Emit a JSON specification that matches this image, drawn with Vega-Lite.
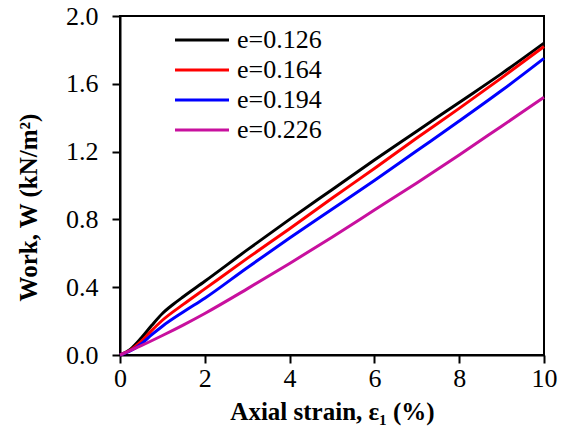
{
  "$schema": "https://vega.github.io/schema/vega-lite/v6.json",
  "width": 424,
  "height": 339,
  "autosize": {"type": "none"},
  "padding": {"left": 120, "top": 16, "right": 21, "bottom": 77},
  "background": "white",
  "config": {
    "font": "Liberation Serif, Times New Roman, serif",
    "view": {"stroke": "black", "strokeWidth": 2},
    "axis": {"grid": false, "labelFlush": false, "domainColor": "black", "domainWidth": 2, "tickColor": "black", "tickWidth": 2, "tickSize": 8, "labelFont": "Liberation Serif, Times New Roman, serif", "labelFontSize": 26, "labelColor": "black", "titleFont": "Liberation Serif, Times New Roman, serif", "titleFontSize": 25, "titleFontWeight": "bold", "titleColor": "black"}
  },
  "data": {"values": [
    {"e": "e=0.126", "x": 0, "w": 0},
    {"e": "e=0.126", "x": 0.25, "w": 0.035},
    {"e": "e=0.126", "x": 0.5, "w": 0.1},
    {"e": "e=0.126", "x": 0.75, "w": 0.175},
    {"e": "e=0.126", "x": 1, "w": 0.245},
    {"e": "e=0.126", "x": 1.25, "w": 0.298},
    {"e": "e=0.126", "x": 1.5, "w": 0.345},
    {"e": "e=0.126", "x": 2, "w": 0.435},
    {"e": "e=0.126", "x": 3, "w": 0.62},
    {"e": "e=0.126", "x": 4, "w": 0.8},
    {"e": "e=0.126", "x": 5, "w": 0.975},
    {"e": "e=0.126", "x": 6, "w": 1.15},
    {"e": "e=0.126", "x": 7, "w": 1.32},
    {"e": "e=0.126", "x": 8, "w": 1.49},
    {"e": "e=0.126", "x": 9, "w": 1.66},
    {"e": "e=0.126", "x": 10, "w": 1.84},
    {"e": "e=0.164", "x": 0, "w": 0},
    {"e": "e=0.164", "x": 0.25, "w": 0.03},
    {"e": "e=0.164", "x": 0.5, "w": 0.08},
    {"e": "e=0.164", "x": 0.75, "w": 0.145},
    {"e": "e=0.164", "x": 1, "w": 0.205},
    {"e": "e=0.164", "x": 1.5, "w": 0.3},
    {"e": "e=0.164", "x": 2, "w": 0.39},
    {"e": "e=0.164", "x": 3, "w": 0.57},
    {"e": "e=0.164", "x": 4, "w": 0.745},
    {"e": "e=0.164", "x": 5, "w": 0.925},
    {"e": "e=0.164", "x": 6, "w": 1.1},
    {"e": "e=0.164", "x": 7, "w": 1.28},
    {"e": "e=0.164", "x": 8, "w": 1.455},
    {"e": "e=0.164", "x": 9, "w": 1.635},
    {"e": "e=0.164", "x": 10, "w": 1.82},
    {"e": "e=0.194", "x": 0, "w": 0},
    {"e": "e=0.194", "x": 0.25, "w": 0.025},
    {"e": "e=0.194", "x": 0.5, "w": 0.065},
    {"e": "e=0.194", "x": 0.75, "w": 0.12},
    {"e": "e=0.194", "x": 1, "w": 0.17},
    {"e": "e=0.194", "x": 1.5, "w": 0.255},
    {"e": "e=0.194", "x": 2, "w": 0.335},
    {"e": "e=0.194", "x": 3, "w": 0.515},
    {"e": "e=0.194", "x": 4, "w": 0.69},
    {"e": "e=0.194", "x": 5, "w": 0.86},
    {"e": "e=0.194", "x": 6, "w": 1.03},
    {"e": "e=0.194", "x": 7, "w": 1.205},
    {"e": "e=0.194", "x": 8, "w": 1.38},
    {"e": "e=0.194", "x": 9, "w": 1.56},
    {"e": "e=0.194", "x": 10, "w": 1.75},
    {"e": "e=0.226", "x": 0, "w": 0},
    {"e": "e=0.226", "x": 0.5, "w": 0.055},
    {"e": "e=0.226", "x": 1, "w": 0.115},
    {"e": "e=0.226", "x": 1.5, "w": 0.178},
    {"e": "e=0.226", "x": 2, "w": 0.245},
    {"e": "e=0.226", "x": 3, "w": 0.39},
    {"e": "e=0.226", "x": 4, "w": 0.54},
    {"e": "e=0.226", "x": 5, "w": 0.695},
    {"e": "e=0.226", "x": 6, "w": 0.855},
    {"e": "e=0.226", "x": 7, "w": 1.015},
    {"e": "e=0.226", "x": 8, "w": 1.18},
    {"e": "e=0.226", "x": 9, "w": 1.35},
    {"e": "e=0.226", "x": 10, "w": 1.52}
  ]},
  "mark": {"type": "line", "strokeWidth": 3, "interpolate": "monotone"},
  "encoding": {
    "x": {"field": "x", "type": "quantitative", "scale": {"domain": [0, 10], "nice": false, "zero": false}, "axis": {"values": [0, 2, 4, 6, 8, 10], "title": "Axial strain, ε₁ (%)", "labelPadding": 2, "titlePadding": 8}},
    "y": {"field": "w", "type": "quantitative", "scale": {"domain": [0, 2]}, "axis": {"values": [0, 0.4, 0.8, 1.2, 1.6, 2.0], "format": ".1f", "title": "Work,  W (kN/m²)", "labelPadding": 14, "titlePadding": 24, "titleY": 191}},
    "color": {"field": "e", "type": "nominal", "scale": {"domain": ["e=0.126", "e=0.164", "e=0.194", "e=0.226"], "range": ["#000000", "#FF0000", "#0000FF", "#C8109E"]},
      "legend": {"title": null, "orient": "none", "legendX": 69, "legendY": 11, "padding": 0, "symbolType": "M-2.7,0H2.7", "symbolSize": 400, "symbolStrokeWidth": 3, "labelFontSize": 26, "labelFont": "Liberation Serif, Times New Roman, serif", "labelColor": "black", "labelOffset": 22, "rowPadding": 4}}
  }
}
